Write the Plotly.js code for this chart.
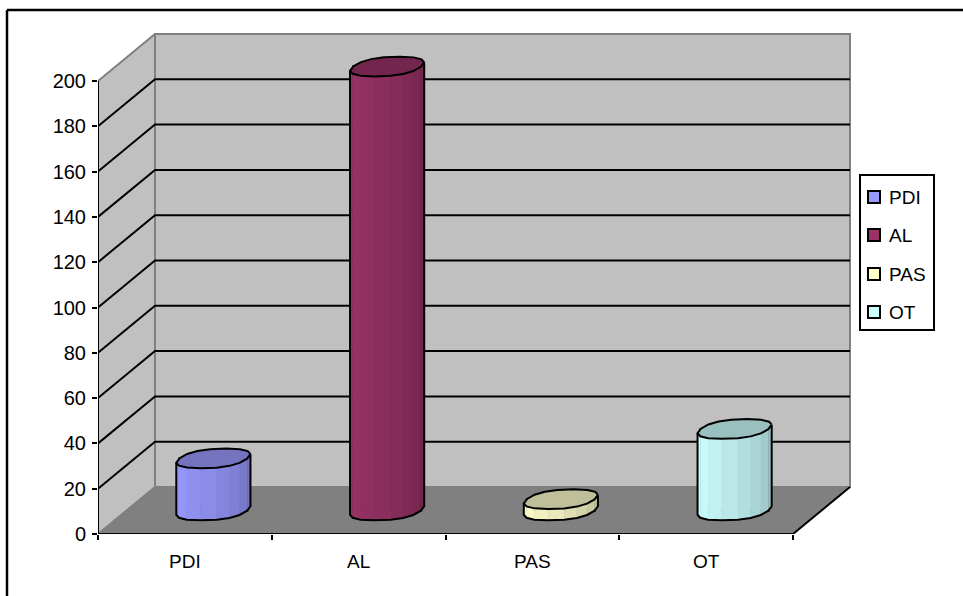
<!DOCTYPE html>
<html><head><meta charset="utf-8">
<script src="https://cdn.plot.ly/plotly-3.0.1.min.js"></script>
<style>html,body{margin:0;padding:0;background:#fff;overflow:hidden}</style>
</head><body><div id="chart" style="width:963px;height:596px"></div>
<script>
// data
const categories = ['PDI','AL','PAS','OT'];
const values = [23, 196, 5, 36];
const barColors = ['#9999FF','#993366','#FFFFCC','#CCFFFF'];
const capColors = ['#7373BF','#73264D','#BFBF99','#99BFBF'];
const yTicks = [0,20,40,60,80,100,120,140,160,180,200];
const gridValues = [20,40,60,80,100,120,140,160,180];
const boundaries = [-0.5,0.5,1.5,2.5,3.5];

// layout constants
const W=963,H=596,L=98,T=33,R=851,B=534;
const pxCat=173.75, pxVal=2.265;
const depthX=57/pxCat, depthY=47/pxVal;
const xMin=-0.5, xMax=xMin+(R-L)/pxCat, yMax=(B-T)/pxVal;
const radiusX=34/pxCat, radiusD=0.21, facets=16, squareness=0.85;
const font={family:'"Liberation Sans",Arial,sans-serif',size:19,color:'#000'};
const tickFontY=Object.assign({},font,{size:20});
const px=v=>(v-L)/(R-L), py=v=>(B-v)/(B-T);

function shade(hex,f){
  const n=parseInt(hex.slice(1),16);
  const c=[n>>16&255,n>>8&255,n&255].map(v=>Math.round(v*f));
  return 'rgb('+c.join(',')+')';
}

const shapes=[];
const poly=(pts,fill,line,width)=>shapes.push({type:'path',layer:'below',xref:'x',yref:'y',
  path:'M'+pts.map(p=>p[0]+' '+p[1]).join('L')+(fill?'Z':''),
  fillcolor:fill||'rgba(0,0,0,0)',line:{color:line,width:width}});
const x0=boundaries[0], x1=boundaries[boundaries.length-1];
// back wall, side wall, floor
poly([[x0+depthX,depthY],[x1+depthX,depthY],[x1+depthX,200+depthY],[x0+depthX,200+depthY]],'#C0C0C0','#808080',2);
poly([[x0,0],[x0+depthX,depthY],[x0+depthX,200+depthY],[x0,200]],'#C0C0C0','#808080',2);
poly([[x0,0],[x1,0],[x1+depthX,depthY],[x0+depthX,depthY]],'#808080','#808080',1);
// grid lines
gridValues.forEach(v=>poly([[x0,v],[x0+depthX,v+depthY],[x1+depthX,v+depthY]],null,'#000',2));
// axes
poly([[x0,0],[x0,200]],null,'#000',2);
poly([[x0,0],[x1,0],[x1+depthX,depthY]],null,'#000',2);

const spow=v=>Math.sign(v)*Math.pow(Math.abs(v),squareness);
const traces=[];
categories.forEach((name,i)=>{
  const cx=i+depthX/2, base=depthY/2, val=values[i];
  const ddx=depthX*radiusD, ddy=depthY*radiusD;
  const rim=t=>[cx+radiusX*spow(Math.cos(t))+ddx*spow(Math.sin(t)), spow(Math.sin(t))*ddy];
  // right-most point of the rim: start of the ring
  let th0=0;
  for(let t=0;t<Math.PI;t+=0.01){ if(rim(t)[0]>rim(th0)[0]) th0=t; }
  const ring=[];
  for(let k=0;k<=facets;k++) ring.push(rim(th0+k*2*Math.PI/facets));
  traces.push({type:'bar',name:name,x:[i],y:[val],base:[base],width:[2*radiusX],offset:[depthX/2-radiusX],
    marker:{color:barColors[i],line:{color:'#000',width:2}},showlegend:false,hoverinfo:'name+y'});
  const front=ring.slice(facets/2);
  for(let k=0;k<front.length-1;k++){
    const a=front[k],b=front[k+1];
    const f=1-0.25*Math.pow(k/(front.length-2),1.2);
    const col=shade(barColors[i],f);
    traces.push({type:'scatter',mode:'lines',x:[a[0],b[0],b[0],a[0],a[0]],
      y:[a[1]+base+val,b[1]+base+val,b[1]+base,a[1]+base,a[1]+base+val],
      fill:'toself',fillcolor:col,line:{color:col,width:0.5},showlegend:false,hoverinfo:'skip'});
  }
  // body outline
  const ox=[front[0][0]].concat(front.map(p=>p[0]),[front[front.length-1][0]]);
  const oy=[front[0][1]+base+val].concat(front.map(p=>p[1]+base),[front[front.length-1][1]+base+val]);
  traces.push({type:'scatter',mode:'lines',x:ox,y:oy,line:{color:'#000',width:2},showlegend:false,hoverinfo:'skip'});
  // top cap
  traces.push({type:'scatter',mode:'lines',x:ring.map(p=>p[0]),y:ring.map(p=>p[1]+base+val),
    fill:'toself',fillcolor:capColors[i],line:{color:'#000',width:2},showlegend:false,hoverinfo:'skip'});
});

// chart frame (top and left only: the rest runs off the picture)
const pshape=(type,a,b,c,d,extra)=>shapes.push(Object.assign({type:type,xref:'paper',yref:'paper',layer:'above',
  x0:px(a),y0:py(b),x1:px(c),y1:py(d)},extra));
pshape('line',7,10,W+5,10,{line:{color:'#000',width:2.5}});
pshape('line',7,10,7,H+5,{line:{color:'#000',width:2.5}});

// legend box
const legendBox=[860,175,934,330], legendY=[197,235,274,312];
pshape('rect',legendBox[0],legendBox[1],legendBox[2],legendBox[3],{fillcolor:'#fff',line:{color:'#000',width:2}});
const annotations=[];
categories.forEach((name,i)=>{
  pshape('rect',868,legendY[i]-6,880,legendY[i]+6,{fillcolor:barColors[i],line:{color:'#000',width:2}});
  annotations.push({xref:'paper',yref:'paper',x:px(887.5),y:py(legendY[i]),xanchor:'left',yanchor:'middle',
    text:name,showarrow:false,font:font,borderpad:0,captureevents:false});
});

const layout={
  width:W,height:H,margin:{l:L,t:T,r:W-R,b:H-B,pad:0},
  paper_bgcolor:'#fff',plot_bgcolor:'#fff',showlegend:false,barmode:'overlay',font:font,
  hovermode:'closest',
  xaxis:{type:'linear',range:[xMin,xMax],tickmode:'array',tickvals:categories.map((_,i)=>i),ticktext:categories,
    ticks:'',showgrid:false,zeroline:false,showline:false,tickfont:font,ticklabelstandoff:14,
    minor:{tickmode:'array',tickvals:boundaries,ticks:'outside',ticklen:5,tickwidth:2,tickcolor:'#000',showgrid:false}},
  yaxis:{type:'linear',range:[0,yMax],tickmode:'array',tickvals:yTicks,ticktext:yTicks.map(String),
    ticks:'outside',ticklen:5,tickwidth:2,tickcolor:'#000',showgrid:false,zeroline:false,showline:false,tickfont:tickFontY,ticklabelstandoff:2},
  shapes:shapes,annotations:annotations
};
Plotly.newPlot('chart',traces,layout,{displayModeBar:false,staticPlot:true});
</script></body></html>
